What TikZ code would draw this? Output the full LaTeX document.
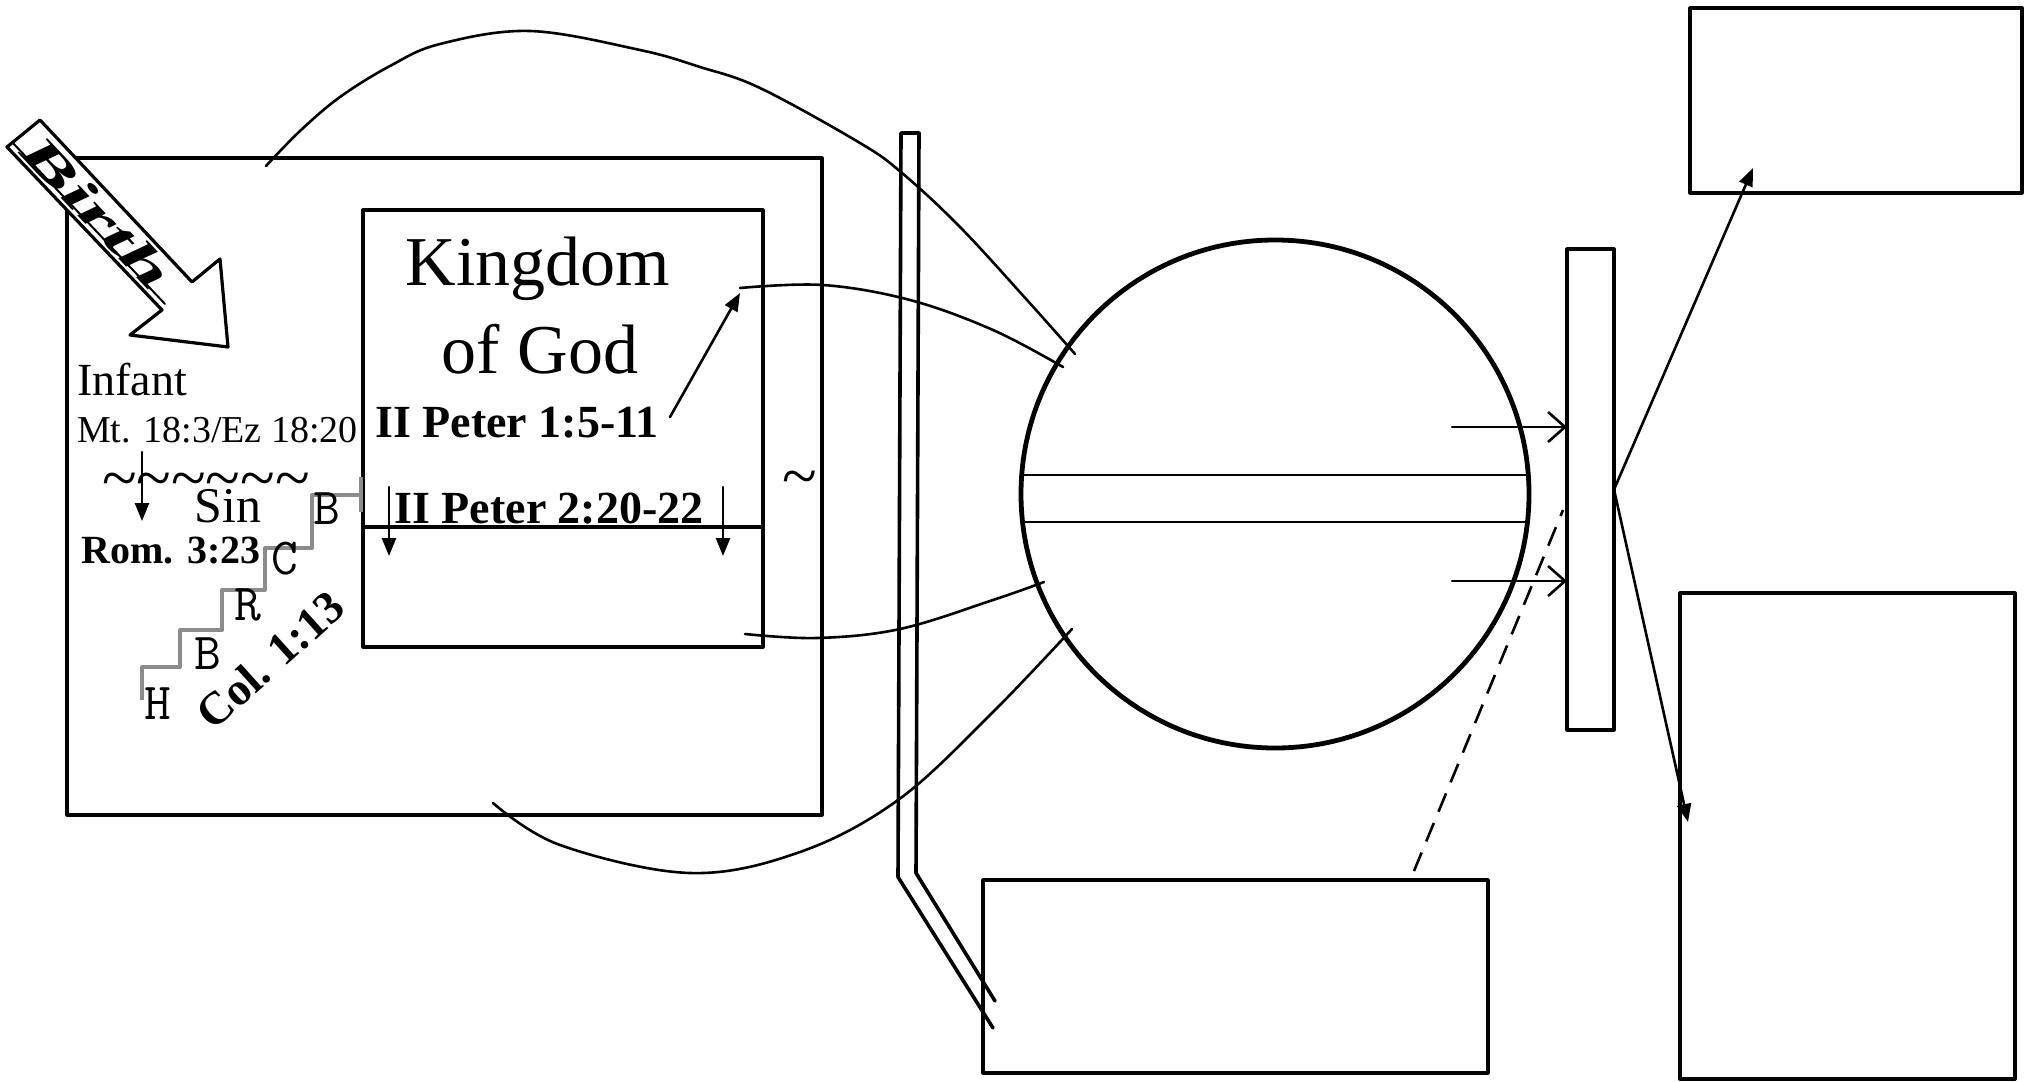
\documentclass[tikz,border=0pt]{standalone}
\usepackage{fontspec}
\setmainfont{Liberation Serif}
\usetikzlibrary{arrows.meta}
\begin{document}
\begin{tikzpicture}[x=0.5pt,y=-0.5pt,line join=round,line cap=round]
\tikzset{
  box/.style={draw,line width=1.6pt,inner sep=0pt,outer sep=0pt,rectangle},
  conn/.style={line width=1.3pt},
  fat/.style={-{Triangle[length=9pt,width=7pt]}},
  barb/.style={-{Straight Barb[length=8.5pt,width=15pt,line width=1.3pt]}},
  stair/.style={draw=black!45,line width=2pt,line cap=butt},
  stairtxt/.style={inner sep=0pt,outer sep=0pt,font=\fontsize{26}{30}\selectfont\ttfamily},
  txt/.style={inner sep=0pt,outer sep=0pt},
  wall/.style={line width=1.8pt},
}
\useasboundingbox (0,0) rectangle (2033,1081);

% ---------------- left panel ----------------
\node[box,minimum width=377.5pt,minimum height=328.5pt] (outer) at (444.5,486.5) {};
\node[box,minimum width=200pt,minimum height=218.5pt] (inner) at (563,428.5) {};
\coordinate (dl) at (363,527); \coordinate (dr) at (763,527);
\draw[line width=1.6pt] (dl) -- (dr);

\node[txt,anchor=base,font=\fontsize{35}{40}\selectfont] (k1) at (538,285) {Kingdom};
\node[txt,anchor=base,font=\fontsize{35}{40}\selectfont] (k2) at (540,373) {of God};
\node[txt,anchor=base,font=\fontsize{23}{28}\selectfont\bfseries] (p1) at (517,437) {II Peter 1:5-11};
\node[txt,anchor=base,font=\fontsize{23}{28}\selectfont\bfseries] (p2) at (549,523) {II Peter 2:20-22};

\coordinate (p1a) at (670,417); \coordinate (p1b) at (740,293);
\draw[conn,fat] (p1a) -- (p1b);
\coordinate (dla) at (389,487); \coordinate (dlb) at (389,556);
\coordinate (dra) at (723,487); \coordinate (drb) at (723,556);
\draw[conn,fat] (dla) -- (dlb);
\draw[conn,fat] (dra) -- (drb);

\node[txt,anchor=base west,font=\fontsize{23}{28}\selectfont] (inf) at (77,395) {Infant};
\node[txt,anchor=base west,font=\fontsize{19}{23}\selectfont] (mt) at (77,442) {Mt. 18:3/Ez 18:20};
\node[txt,anchor=base,font=\fontsize{32}{36}\selectfont] (waves) at (206,499)
  {\textasciitilde\textasciitilde\textasciitilde\textasciitilde\textasciitilde\textasciitilde};
\node[txt,anchor=base,font=\fontsize{32}{36}\selectfont] (wave2) at (800,497) {\textasciitilde};
\node[txt,anchor=base,font=\fontsize{25}{30}\selectfont] (sin) at (228,522) {Sin};
\node[txt,anchor=base,font=\fontsize{20}{24}\selectfont\bfseries] (rom) at (171,563) {Rom. 3:23};
\coordinate (ia) at (142,452); \coordinate (ib) at (142,521);
\draw[conn,fat] (ia) -- (ib);

% staircase
\draw[stair] (361,477) -- (361,512);
\draw[stair] (361,495) -- (312,495) -- (312,548) -- (265,548) -- (265,590) -- (222,590)
  -- (222,630) -- (180,630) -- (180,667) -- (142,667) -- (142,700);
\node[stairtxt] (sb1) at (327,509) {B};
\node[stairtxt] (sc) at (285,559) {C};
\node[stairtxt] (sr) at (248,605) {R};
\node[stairtxt] (sb2) at (208,654) {B};
\node[stairtxt] (sh) at (158,704) {H};
\node[txt,rotate=42,font=\fontsize{23}{28}\selectfont\bfseries] (col) at (270,660) {Col. 1:13};

% birth arrow
\draw[line width=1.6pt,fill=white] (40,120) -- (192,282) -- (220,259) -- (228,347) -- (130,335)
  -- (162,310) -- (7,147) -- cycle;
\draw[line width=1pt] (12,142) -- (165,304);
\node[txt,rotate=-46.6,font=\fontsize{24}{28}\selectfont\bfseries\itshape] (birth) at (97,212)
  {\scalebox{1.85}[1]{Birth}};

% ---------------- wall ----------------
\coordinate (wa) at (993,1028); \coordinate (wb) at (898,877); \coordinate (wc) at (901,133);
\coordinate (wd) at (919,133); \coordinate (we) at (916,873); \coordinate (wf) at (995,1001);
\draw[wall] (wa) -- (wb) -- (wc) -- (wd) -- (we) -- (wf);

% ---------------- circle ----------------
\node[draw,circle,line width=2.4pt,minimum size=254pt,inner sep=0pt,outer sep=0pt] (circ) at (1275,494) {};
\coordinate (b1l) at (1022,475); \coordinate (b1r) at (1528,475);
\coordinate (b2l) at (1023,522); \coordinate (b2r) at (1527,522);
\draw[conn] (b1l) -- (b1r);
\draw[conn] (b2l) -- (b2r);

% ---------------- right side ----------------
\node[box,minimum width=23.5pt,minimum height=240.5pt] (thin) at (1590.5,489.5) {};
\node[box,minimum width=166pt,minimum height=92.5pt] (tr) at (1856,100.5) {};
\node[box,minimum width=167.5pt,minimum height=243pt] (br) at (1847.5,836) {};
\node[box,minimum width=252.5pt,minimum height=96.5pt] (bm) at (1235.5,976.5) {};

\coordinate (h1) at (1452,427); \coordinate (h2) at (1452,581);
\draw[conn,barb] (h1) -- (thin.west |- h1);
\draw[conn,barb] (h2) -- (thin.west |- h2);
\coordinate (dsa) at (1414,871); \coordinate (dsb) at (1563,510);
\draw[conn,dash pattern=on 10pt off 6pt,line cap=butt] (dsa) -- (dsb);

\coordinate (tip1) at (1753,168); \coordinate (tip2) at (1688,822);
\draw[conn,fat] (thin.east) -- (tip1);
\draw[conn,fat] (thin.east) -- (tip2);

% ---------------- curves ----------------
\coordinate (c1s) at (266,166); \coordinate (c1e) at (1075,354);
\draw[conn] plot[smooth,tension=0.6] coordinates {(c1s) (300,131) (340,97) (390,66) (440,44) (530,31)
  (640,50) (700,67) (760,88) (860,143) (902,173) (960,227) (1027,300) (c1e)};
\coordinate (c3s) at (740,288); \coordinate (c3e) at (1063,367);
\draw[conn] plot[smooth,tension=0.6] coordinates {(c3s) (823,285) (910,300) (993,330) (c3e)};
\coordinate (c4s) at (745,634); \coordinate (c4e) at (1044,582);
\draw[conn] plot[smooth,tension=0.6] coordinates {(c4s) (817,638) (900,629) (993,600) (c4e)};
\coordinate (c5s) at (493,803); \coordinate (c5e) at (1072,629);
\draw[conn] plot[smooth,tension=0.6] coordinates {(c5s) (560,845) (690,873) (800,852)
  (898,800) (990,715) (c5e)};
\end{tikzpicture}
\end{document}
